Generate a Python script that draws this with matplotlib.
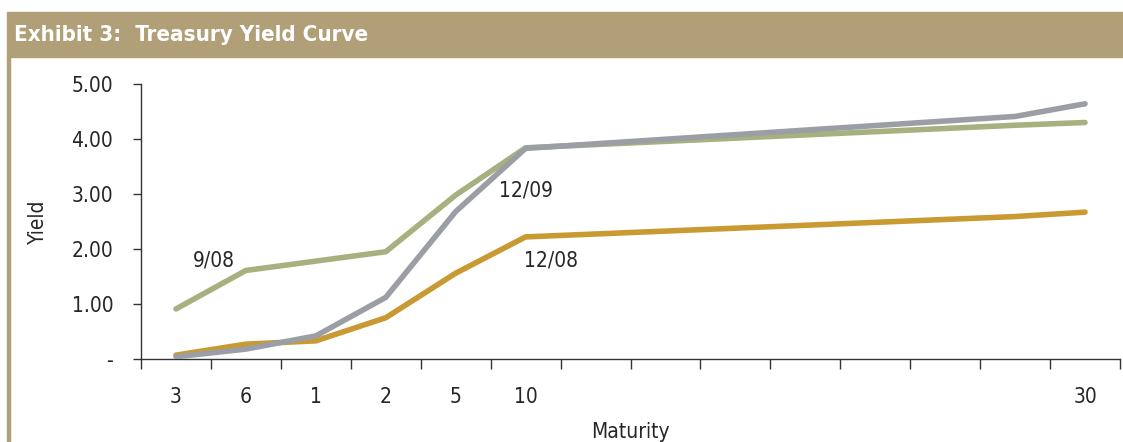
import matplotlib
matplotlib.use('Agg')
import matplotlib.pyplot as plt
from matplotlib.patches import Rectangle

# maturities on a category axis; blanks fill the gap between 10 and 30
tick_labels = ['3', '6', '1', '2', '5', '10', '', '', '', '', '', '', '', '30']
# category slot of each observed maturity (3m, 6m, 1y, 2y, 5y, 10y, 20y, 30y)
pts = [0, 1, 2, 3, 4, 5, 12, 13]

yield_sep08 = [0.91, 1.61, 1.78, 1.95, 2.98, 3.84, 4.25, 4.30]
yield_dec08 = [0.07, 0.27, 0.33, 0.75, 1.56, 2.22, 2.59, 2.67]
yield_dec09 = [0.04, 0.18, 0.42, 1.12, 2.68, 3.83, 4.41, 4.64]

c_green = '#a7b17f'
c_gold = '#c99a31'
c_gray = '#9b9fa5'
c_tan = '#b09f77'
c_text = '#262626'

plt.rcParams['font.family'] = ['DejaVu Sans']
plt.rcParams['font.stretch'] = 'condensed'

fig = plt.figure(figsize=(11.23, 4.42), dpi=100)
W, H = 1123, 442

# title band and left rule
fig.patches.append(Rectangle((7 / W, 1 - 57 / H), 1 - 7 / W, 45 / H,
                             transform=fig.transFigure, color=c_tan, zorder=0))
fig.patches.append(Rectangle((7 / W, 0), 3 / W, 1 - 57 / H,
                             transform=fig.transFigure, color=c_tan, zorder=0))
fig.text(14 / W, 1 - 35 / H, 'Exhibit 3:  Treasury Yield Curve', color='white',
         fontsize=16, fontweight='bold', va='center', ha='left')

ax = fig.add_axes([141 / W, 1 - 359 / H, (1120 - 141) / W, (359 - 84) / H])
ax.plot(pts, yield_sep08, color=c_green, lw=4, solid_capstyle='round', zorder=2)
ax.plot(pts, yield_dec08, color=c_gold, lw=4, solid_capstyle='round', zorder=3)
ax.plot(pts, yield_dec09, color=c_gray, lw=4, solid_capstyle='round', zorder=4)

ax.text(0.54, 1.8, '9/08', fontsize=15, color=c_text, va='center', ha='center')
ax.text(5.0, 3.07, '12/09', fontsize=15, color=c_text, va='center', ha='center')
ax.text(5.36, 1.8, '12/08', fontsize=15, color=c_text, va='center', ha='center')

ax.set_xlim(-0.5, 13.5)
ax.set_ylim(0, 5)
ax.set_yticks([0, 1, 2, 3, 4, 5])
ax.set_yticklabels(['-', '1.00', '2.00', '3.00', '4.00', '5.00'], fontsize=15, color=c_text)
ax.set_xticks(range(len(tick_labels)))
ax.set_xticklabels(tick_labels, fontsize=15, color=c_text)
ax.set_xticks([i - 0.5 for i in range(len(tick_labels) + 1)], minor=True)
ax.tick_params(axis='x', which='major', length=0, pad=20)
ax.tick_params(axis='x', which='minor', length=7, width=1, color='#333333')
ax.tick_params(axis='y', length=6, width=1, color='#333333', pad=14)

for s in ['top', 'right']:
    ax.spines[s].set_visible(False)
for s in ['left', 'bottom']:
    ax.spines[s].set_color('#333333')
    ax.spines[s].set_linewidth(1)

ax.set_ylabel('Yield', fontsize=15, labelpad=17, color=c_text)
ax.set_xlabel('Maturity', fontsize=15, labelpad=11, color=c_text)

fig.savefig('out.png', dpi=100)
